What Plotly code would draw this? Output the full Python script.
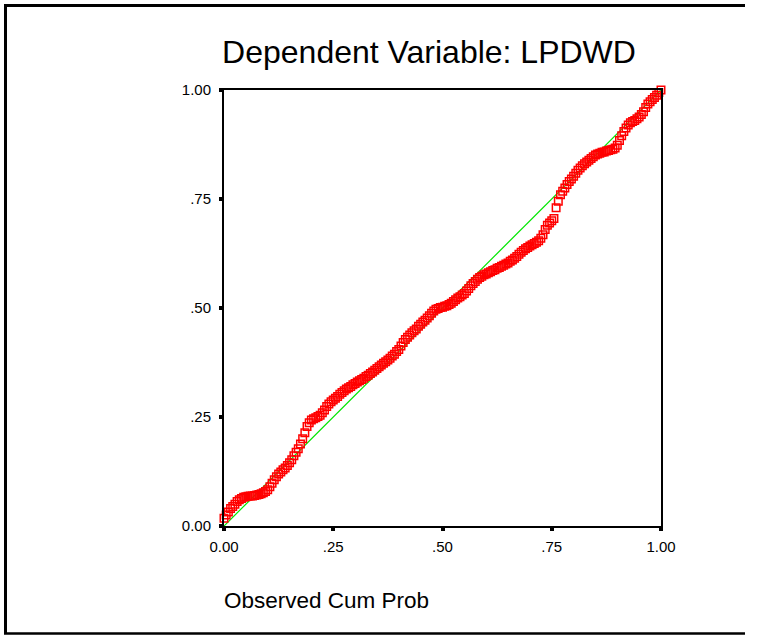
import plotly.graph_objects as go

# Observed cumulative probability (x) and expected cumulative probability (y)
observed_cum_prob = [
    0.000, 0.005, 0.010, 0.015, 0.020, 0.025, 0.030, 0.035, 0.040, 0.045,
    0.050, 0.055, 0.060, 0.065, 0.070, 0.075, 0.080, 0.085, 0.090, 0.095,
    0.100, 0.105, 0.110, 0.115, 0.120, 0.125, 0.130, 0.135, 0.140, 0.145,
    0.150, 0.155, 0.160, 0.165, 0.170, 0.175, 0.180, 0.185, 0.190, 0.195,
    0.200, 0.205, 0.210, 0.215, 0.220, 0.225, 0.230, 0.235, 0.240, 0.245,
    0.250, 0.255, 0.260, 0.265, 0.270, 0.275, 0.280, 0.285, 0.290, 0.295,
    0.300, 0.305, 0.310, 0.315, 0.320, 0.325, 0.330, 0.335, 0.340, 0.345,
    0.350, 0.355, 0.360, 0.365, 0.370, 0.375, 0.380, 0.385, 0.390, 0.395,
    0.400, 0.405, 0.410, 0.415, 0.420, 0.425, 0.430, 0.435, 0.440, 0.445,
    0.450, 0.455, 0.460, 0.465, 0.470, 0.475, 0.480, 0.485, 0.490, 0.495,
    0.500, 0.505, 0.510, 0.515, 0.520, 0.525, 0.530, 0.535, 0.540, 0.545,
    0.550, 0.555, 0.560, 0.565, 0.570, 0.575, 0.580, 0.585, 0.590, 0.595,
    0.600, 0.605, 0.610, 0.615, 0.620, 0.625, 0.630, 0.635, 0.640, 0.645,
    0.650, 0.655, 0.660, 0.665, 0.670, 0.675, 0.680, 0.685, 0.690, 0.695,
    0.700, 0.705, 0.710, 0.715, 0.720, 0.725, 0.730, 0.735, 0.740, 0.745,
    0.750, 0.755, 0.760, 0.765, 0.770, 0.775, 0.780, 0.785, 0.790, 0.795,
    0.800, 0.805, 0.810, 0.815, 0.820, 0.825, 0.830, 0.835, 0.840, 0.845,
    0.850, 0.855, 0.860, 0.865, 0.870, 0.875, 0.880, 0.885, 0.890, 0.895,
    0.900, 0.905, 0.910, 0.915, 0.920, 0.925, 0.930, 0.935, 0.940, 0.945,
    0.950, 0.955, 0.960, 0.965, 0.970, 0.975, 0.980, 0.985, 0.990, 0.995,
    1.000,
]
expected_cum_prob = [
    0.018, 0.025, 0.032, 0.040, 0.045, 0.050, 0.056, 0.060, 0.063, 0.066,
    0.067, 0.068, 0.069, 0.069, 0.070, 0.071, 0.072, 0.074, 0.076, 0.079,
    0.083, 0.090, 0.098, 0.106, 0.113, 0.119, 0.124, 0.129, 0.133, 0.139,
    0.145, 0.152, 0.161, 0.169, 0.177, 0.188, 0.200, 0.214, 0.228, 0.237,
    0.243, 0.246, 0.248, 0.251, 0.254, 0.260, 0.266, 0.274, 0.280, 0.285,
    0.289, 0.293, 0.297, 0.302, 0.306, 0.310, 0.314, 0.317, 0.320, 0.324,
    0.327, 0.330, 0.333, 0.336, 0.339, 0.343, 0.346, 0.350, 0.353, 0.357,
    0.361, 0.365, 0.369, 0.373, 0.377, 0.381, 0.385, 0.390, 0.394, 0.400,
    0.405, 0.413, 0.421, 0.428, 0.433, 0.438, 0.443, 0.448, 0.452, 0.458,
    0.463, 0.468, 0.472, 0.477, 0.482, 0.488, 0.493, 0.497, 0.499, 0.501,
    0.502, 0.504, 0.505, 0.508, 0.511, 0.515, 0.519, 0.523, 0.526, 0.530,
    0.533, 0.539, 0.545, 0.551, 0.556, 0.561, 0.566, 0.570, 0.573, 0.576,
    0.578, 0.581, 0.583, 0.586, 0.588, 0.591, 0.593, 0.596, 0.598, 0.601,
    0.603, 0.607, 0.610, 0.614, 0.618, 0.623, 0.628, 0.632, 0.636, 0.639,
    0.642, 0.645, 0.648, 0.651, 0.654, 0.660, 0.668, 0.680, 0.690, 0.695,
    0.700, 0.705, 0.730, 0.745, 0.760, 0.768, 0.775, 0.783, 0.790, 0.796,
    0.802, 0.809, 0.816, 0.821, 0.826, 0.831, 0.835, 0.839, 0.843, 0.847,
    0.851, 0.853, 0.855, 0.857, 0.858, 0.860, 0.861, 0.863, 0.864, 0.867,
    0.873, 0.884, 0.895, 0.905, 0.913, 0.920, 0.925, 0.928, 0.930, 0.934,
    0.938, 0.944, 0.950, 0.960, 0.968, 0.973, 0.978, 0.983, 0.988, 0.994,
    1.000,
]
ref_line_x = [0.0, 1.0]
ref_line_y = [0.0, 1.0]
tick_vals = [0.0, 0.25, 0.5, 0.75, 1.0]
tick_text = ["0.00", ".25", ".50", ".75", "1.00"]

W, H = 763, 635
L, R, T, B = 224, 102, 90, 109
PW, PH = W - L - R, H - T - B

def px_x(p):
    return (p - L) / PW

def px_y(p):
    return (H - B - p) / PH

FONT = "Liberation Sans, Arial, sans-serif"

fig = go.Figure()
fig.add_trace(go.Scatter(
    x=ref_line_x, y=ref_line_y, mode="lines",
    line=dict(color="rgb(0,230,0)", width=1.2),
    hoverinfo="skip", showlegend=False,
))
fig.add_trace(go.Scatter(
    x=observed_cum_prob, y=expected_cum_prob, mode="markers",
    marker=dict(symbol="square-open", size=7.5, color="#ff0000",
                line=dict(color="#ff0000", width=1.5)),
    cliponaxis=False, showlegend=False,
))

axis_common = dict(
    range=[0, 1], tickvals=tick_vals, ticktext=tick_text,
    showgrid=False, zeroline=False, showline=True, mirror=True,
    linecolor="black", linewidth=2, ticks="outside", ticklen=3,
    tickwidth=4, tickcolor="black",
    tickfont=dict(family=FONT, size=15, color="black"),
)
fig.update_xaxes(**axis_common, ticklabelstandoff=3)
fig.update_yaxes(**axis_common, ticklabelstandoff=5)

fig.update_layout(
    width=W, height=H,
    margin=dict(l=L, r=R, t=T, b=B, pad=0),
    plot_bgcolor="white", paper_bgcolor="white",
    title=dict(text="Dependent Variable: LPDWD", x=429 / W, xanchor="center",
               xref="container", y=1 - 52 / H, yanchor="middle", yref="container",
               font=dict(family=FONT, size=32, color="black")),
    annotations=[dict(text="Observed Cum Prob", xref="paper", yref="paper",
                      x=px_x(222), y=px_y(600), xanchor="left", yanchor="middle",
                      showarrow=False,
                      font=dict(family=FONT, size=22.5, color="black"))],
    shapes=[
        dict(type="line", xref="paper", yref="paper", x0=px_x(4), x1=px_x(745),
             y0=px_y(5.5), y1=px_y(5.5), line=dict(color="black", width=3)),
        dict(type="line", xref="paper", yref="paper", x0=px_x(5.5), x1=px_x(5.5),
             y0=px_y(4), y1=px_y(634), line=dict(color="black", width=3)),
        dict(type="line", xref="paper", yref="paper", x0=px_x(4), x1=px_x(745),
             y0=px_y(633.5), y1=px_y(633.5), line=dict(color="black", width=2.5)),
    ],
)

fig.write_html("out.html",
               config={"displayModeBar": False},
               post_script="document.body.style.margin='0';"
                           "document.body.style.overflow='hidden';")
